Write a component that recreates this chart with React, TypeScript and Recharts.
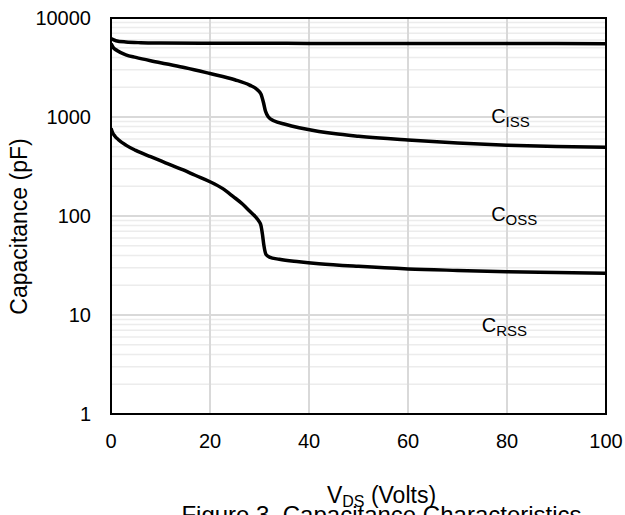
import React from 'react';
import {
  LineChart,
  Line,
  XAxis,
  YAxis,
  CartesianGrid,
  ReferenceArea,
  ReferenceDot,
  Label,
} from 'recharts';

// V_DS (Volts) and capacitance (pF) for each curve
const cissV = [0, 1, 3, 6, 10, 20, 40, 60, 80, 100];
const cissC = [6200, 5900, 5720, 5630, 5590, 5560, 5540, 5530, 5520, 5510];

const cossV = [0, 0.5, 1.2, 3, 5, 8, 11, 15, 20, 25, 28, 29.5, 30.3, 30.8, 31.2, 31.8, 33, 35, 38, 42, 45, 50, 60, 70, 80, 90, 100];
const cossC = [5500, 5000, 4700, 4250, 4000, 3700, 3450, 3150, 2750, 2380, 2100, 1900, 1700, 1400, 1150, 1000, 910, 850, 780, 715, 680, 640, 586, 545, 518, 503, 494];

const crssV = [0, 0.3, 0.8, 1.5, 3, 5, 8, 11, 14.6, 17, 20, 22.5, 24.7, 26.5, 28.1, 29.2, 29.8, 30.3, 30.6, 30.9, 31.3, 32, 34, 38, 42, 50, 60, 70, 80, 90, 100];
const crssC = [770, 700, 640, 590, 520, 460, 397, 345, 292, 258, 222, 190, 157, 133, 111, 98, 90, 80, 65, 50, 41, 38.5, 36.5, 34.5, 33, 31, 29.2, 28.2, 27.4, 26.9, 26.4];

const xTicks = [0, 20, 40, 60, 80, 100];
const yTicks = [1, 10, 100, 1000, 10000];
const majorGrid = [10, 100, 1000];
const minorGrid = [1, 10, 100, 1000].flatMap((d) => [2, 3, 4, 5, 6, 7, 8, 9].map((m) => m * d));

const curveLabels = [
  { name: 'C', sub: 'ISS', v: 76.8, c: 870 },
  { name: 'C', sub: 'OSS', v: 76.8, c: 89 },
  { name: 'C', sub: 'RSS', v: 74.9, c: 6.73 },
];

const toData = (xs: number[], ys: number[]) => xs.map((v, i) => ({ v, c: ys[i] }));
const cissData = toData(cissV, cissC);
const cossData = toData(cossV, cossC);
const crssData = toData(crssV, crssC);

const FONT = '"Liberation Sans", Arial, sans-serif';

const XTitle = (props: any) => {
  const vb = props.viewBox || { x: 111, y: 414, width: 495, height: 40 };
  const cx = vb.x + vb.width / 2 + 23;
  return (
    <g>
      <text x={cx} y={vb.y + 89} textAnchor="middle" fontSize={23} fontFamily={FONT} fill="#000">
        V<tspan fontSize={16} dy={4}>DS</tspan>
        <tspan dy={-4}>{'\u00a0(Volts)'}</tspan>
      </text>
      <text x={cx} y={vb.y + 109} textAnchor="middle" fontSize={24} fontFamily={FONT} fill="#000">
        Figure 3. Capacitance Characteristics
      </text>
    </g>
  );
};

const YTitle = (props: any) => {
  const vb = props.viewBox || { x: 0, y: 18, width: 111, height: 396 };
  const cx = 19;
  const cy = vb.y + vb.height / 2 + 10.5;
  return (
    <text
      x={cx}
      y={cy}
      dy="0.36em"
      transform={`rotate(-90, ${cx}, ${cy})`}
      textAnchor="middle"
      fontSize={23}
      fontFamily={FONT}
      fill="#000"
    >
      Capacitance (pF)
    </text>
  );
};

const makeCurveLabel = (name: string, sub: string) => (props: any) => {
  const vb = props.viewBox || { x: 0, y: 0 };
  return (
    <text x={vb.x} y={vb.y} fontSize={20} fontFamily={FONT} fill="#000">
      {name}
      <tspan fontSize={15} dy={4}>
        {sub}
      </tspan>
    </text>
  );
};

export default function App() {
  return (
    <div style={{ position: 'absolute', left: 0, top: 0, width: 625, height: 515, background: '#fff' }}>
      <LineChart width={625} height={515} margin={{ top: 18, right: 19, bottom: 61, left: 0 }}>
        <CartesianGrid
          horizontalValues={minorGrid}
          vertical={false}
          stroke="#ececec"
          strokeWidth={1.5}
        />
        <CartesianGrid
          horizontalValues={majorGrid}
          verticalValues={[20, 40, 60, 80]}
          stroke="#d9d9d9"
          strokeWidth={2}
        />
        <XAxis
          dataKey="v"
          type="number"
          domain={[0, 100]}
          ticks={xTicks}
          allowDataOverflow
          height={40}
          tickLine={false}
          tickSize={6}
          tickMargin={14}
          axisLine={{ stroke: '#000', strokeWidth: 2 }}
          tick={{ fontSize: 20, fontFamily: FONT, fill: '#000' }}
          interval={0}
        >
          <Label content={<XTitle />} position="bottom" />
        </XAxis>
        <YAxis
          dataKey="c"
          type="number"
          scale="log"
          domain={[1, 10000]}
          ticks={yTicks}
          allowDataOverflow
          width={111}
          tickLine={false}
          tickSize={6}
          tickMargin={14}
          axisLine={{ stroke: '#000', strokeWidth: 2 }}
          tick={{ fontSize: 20, fontFamily: FONT, fill: '#000' }}
          tickFormatter={(v: number) => String(v)}
          interval={0}
        >
          <Label content={<YTitle />} position="left" />
        </YAxis>
        <ReferenceArea
          x1={0}
          x2={100}
          y1={1}
          y2={10000}
          fill="none"
          fillOpacity={0}
          stroke="#000"
          strokeWidth={2}
          strokeOpacity={1}
        />
        <Line data={cissData} dataKey="c" type="monotone" stroke="#000" strokeWidth={3.5} dot={false} isAnimationActive={false} />
        <Line data={cossData} dataKey="c" type="monotone" stroke="#000" strokeWidth={3.5} dot={false} isAnimationActive={false} />
        <Line data={crssData} dataKey="c" type="monotone" stroke="#000" strokeWidth={3.5} dot={false} isAnimationActive={false} />
        {curveLabels.map((l) => (
          <ReferenceDot
            key={l.sub}
            x={l.v}
            y={l.c}
            r={0}
            fill="none"
            stroke="none"
            label={makeCurveLabel(l.name, l.sub)}
          />
        ))}
      </LineChart>
    </div>
  );
}
